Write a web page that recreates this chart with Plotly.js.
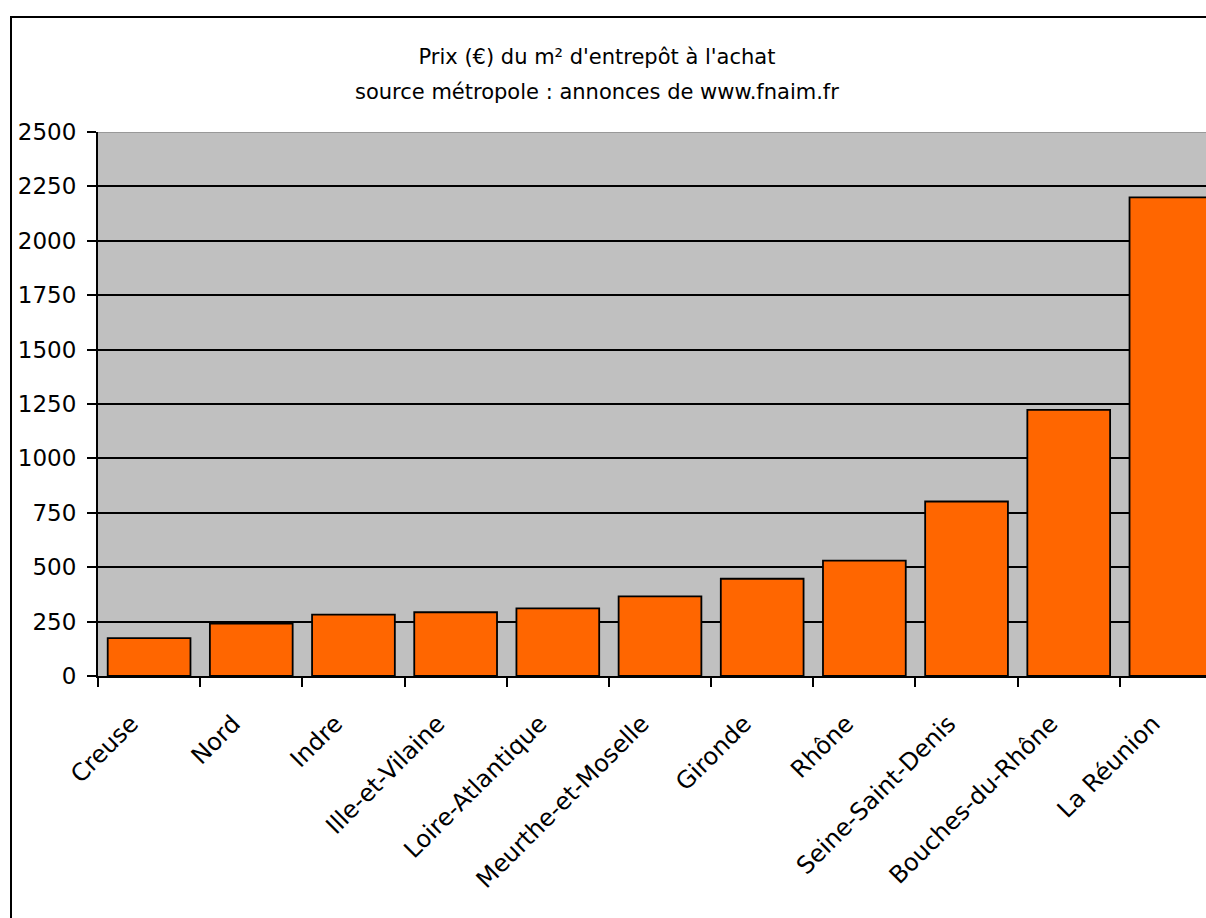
<!DOCTYPE html>
<html>
<head>
<meta charset="utf-8">
<script src="https://cdn.plot.ly/plotly-3.0.1.min.js"></script>
<style>
  html, body { margin: 0; padding: 0; overflow: hidden; background: #ffffff; width: 1206px; height: 918px; }
  #frame { position: absolute; left: 10px; top: 16px; width: 1260px; height: 950px; border: 2px solid #000; background: #fff; }
  #chart { width: 1260px; height: 950px; }
</style>
</head>
<body>
<div id="frame"><div id="chart"></div></div>
<script>
const departements = ["Creuse", "Nord", "Indre", "Ille-et-Vilaine", "Loire-Atlantique", "Meurthe-et-Moselle", "Gironde", "Rhône", "Seine-Saint-Denis", "Bouches-du-Rhône", "La Réunion"];
const prixM2 = [174, 241, 282, 293, 311, 366, 447, 530, 802, 1223, 2200];
const yTicks = [0, 250, 500, 750, 1000, 1250, 1500, 1750, 2000, 2250, 2500];
const titleLine1 = "Prix (€) du m² d'entrepôt à l'achat";
const titleLine2 = "source métropole : annonces de www.fnaim.fr";

const font = "DejaVu Sans, Arial, sans-serif";

const data = [{
  type: "bar",
  x: departements,
  y: prixM2,
  width: 0.81,
  marker: { color: "#FF6600", line: { color: "#000000", width: 1.8 } },
  hoverinfo: "x+y"
}];

const layout = {
  width: 1260,
  height: 950,
  margin: { l: 86, r: 50, t: 114, b: 292 },
  paper_bgcolor: "#ffffff",
  plot_bgcolor: "#C0C0C0",
  showlegend: false,
  title: {
    text: titleLine1,
    font: { family: font, size: 21, color: "#000" },
    x: 585 / 1260, xref: "container", xanchor: "center",
    y: 1 - 39 / 950, yref: "container", yanchor: "middle"
  },
  annotations: [{
    text: titleLine2,
    font: { family: font, size: 21, color: "#000" },
    xref: "paper", yref: "paper",
    x: (585 - 86) / 1124, xanchor: "center",
    y: 1 + 40 / 544, yanchor: "middle",
    showarrow: false
  }],
  xaxis: {
    type: "category",
    range: [-0.5, 10.5],
    showline: true, linecolor: "#000", linewidth: 2,
    ticks: "outside", tickson: "boundaries", ticklen: 9, tickwidth: 2, tickcolor: "#000",
    tickangle: -45,
    tickfont: { family: font, size: 24, color: "#000" },
    ticklabelstandoff: 22,
    ticklabelshift: -18,
    showgrid: false, zeroline: false, fixedrange: true
  },
  yaxis: {
    range: [0, 2500],
    tickvals: yTicks,
    ticktext: yTicks.map(String),
    showline: true, linecolor: "#000", linewidth: 2,
    ticks: "outside", ticklen: 9, tickwidth: 2, tickcolor: "#000",
    tickfont: { family: font, size: 23, color: "#000" },
    ticklabelstandoff: 6,
    showgrid: true, gridcolor: "#000", gridwidth: 2,
    zeroline: false, fixedrange: true
  },
  shapes: [{
    type: "line", xref: "paper", yref: "y", x0: 0, x1: 1, y0: 2500, y1: 2500,
    line: { color: "#999999", width: 2 }, layer: "above"
  }]
};

Plotly.newPlot("chart", data, layout, { displayModeBar: false, staticPlot: true });
</script>
</body>
</html>
